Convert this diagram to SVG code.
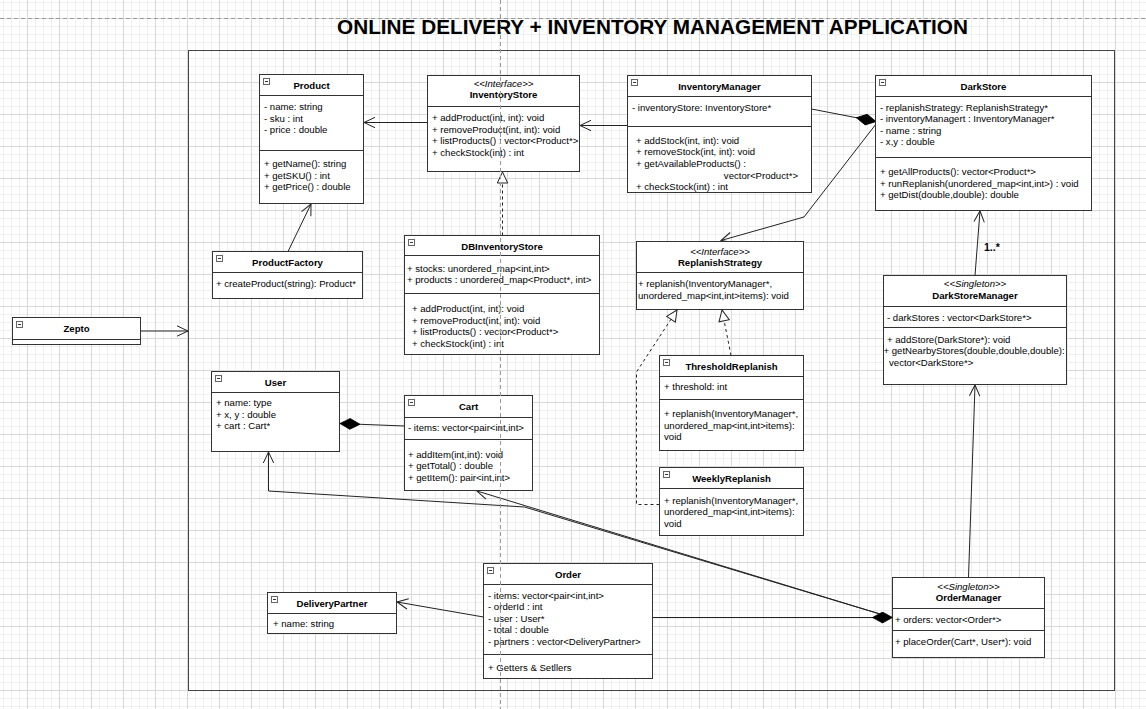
<svg xmlns="http://www.w3.org/2000/svg" xmlns:xlink="http://www.w3.org/1999/xlink" width="1146" height="709" viewBox="0 0 1146 709">
<style>
text{font-family:"Liberation Sans",Arial,Helvetica,sans-serif;font-size:9.6px;fill:#000}
.h{font-weight:bold;text-anchor:middle}
.s{font-style:italic;text-anchor:middle}
.e{text-anchor:end}
.box{fill:#fff;stroke:#333;stroke-width:1}
.ln{fill:none;stroke:#333;stroke-width:1}
.c{fill:none;stroke:#222;stroke-width:1}
.d{fill:none;stroke:#222;stroke-width:1;stroke-dasharray:3 3}
.pb{fill:none;stroke:#9a9a9a;stroke-width:1;stroke-dasharray:4 3}
</style>
<defs>
<pattern id="grid" width="32" height="32" patternUnits="userSpaceOnUse" x="27" y="18">
<path d="M8.5 0V32M16.5 0V32M24.5 0V32M0 8.5H32M0 16.5H32M0 24.5H32" stroke="#efefef" stroke-width="1" fill="none"/>
<path d="M0.5 0V32M0 0.5H32" stroke="#d9d9d9" stroke-width="1" fill="none"/>
</pattern>
<g id="ic"><rect x="0" y="0" width="6" height="6" fill="#fff" stroke="#666" stroke-width="1"/><path d="M1.5 3H4.5" stroke="#333" stroke-width="1"/></g>
<marker id="open" viewBox="0 0 14 14" markerWidth="14" markerHeight="14" refX="12" refY="7" orient="auto" markerUnits="userSpaceOnUse"><path d="M1 1.8L12 7L1 12.2" fill="none" stroke="#222" stroke-width="1"/></marker>
<marker id="tri" viewBox="0 0 14 14" markerWidth="14" markerHeight="14" refX="12" refY="7" orient="auto" markerUnits="userSpaceOnUse"><path d="M1 1.8L12 7L1 12.2Z" fill="#fff" stroke="#222" stroke-width="1"/></marker>
<marker id="dia" viewBox="0 0 22 12" markerWidth="22" markerHeight="12" refX="21" refY="6" orient="auto" markerUnits="userSpaceOnUse"><path d="M1 6L11 0.6L21 6L11 11.4Z" fill="#000" stroke="#000" stroke-width="0.8"/></marker>
</defs>
<rect x="0" y="0" width="1146" height="709" fill="#fff"/>
<rect x="0" y="0" width="1146" height="709" fill="url(#grid)"/>

<g id="title"><text x="652.5" y="34" style="font-size:20.6px;font-weight:bold;text-anchor:middle" textLength="631" lengthAdjust="spacingAndGlyphs">ONLINE DELIVERY + INVENTORY MANAGEMENT APPLICATION</text></g>

<g id="container"><rect x="188.5" y="50.5" width="926" height="640" fill="none" stroke="#444" stroke-width="1"/></g>

<g id="connectors">
<path class="c" d="M427.5 122.5H364" marker-end="url(#open)"/>
<path class="c" d="M288 251.5L311 204" marker-end="url(#open)"/>
<path class="c" d="M627.5 125.5H580" marker-end="url(#open)"/>
<path class="d" d="M502.5 235.5V172" marker-end="url(#tri)"/>
<path class="c" d="M811.5 109L876 121.5" marker-end="url(#dia)"/>
<path class="c" d="M876 124L804 217L721 240.5" marker-end="url(#open)"/>
<path class="c" d="M975 275.5L980 211" marker-end="url(#open)"/>
<path class="d" d="M731 355.5L722 310" marker-end="url(#tri)"/>
<path class="d" d="M659.5 504.5H636.5V372L677 310" marker-end="url(#tri)"/>
<path class="c" d="M404.5 426L340 423.5" marker-end="url(#dia)"/>
<path class="c" d="M140.5 331H188" marker-end="url(#open)"/>
<path class="c" d="M483.5 617L397 602" marker-end="url(#open)"/>
<path class="c" d="M652.5 617.5H892.5" marker-end="url(#dia)"/>
<path class="c" d="M880 614L524.5 507L268.5 491V452" marker-end="url(#open)"/>
<path class="c" d="M880 614L477 491" marker-end="url(#open)"/>
<path class="c" d="M968.5 577.5L975 385" marker-end="url(#open)"/>
<text x="984" y="250.5" style="font-weight:bold;font-size:10.5px">1..*</text>
</g>

<g id="product">
<rect class="box" x="259.5" y="74.5" width="104" height="129"/>
<path class="ln" d="M259.5 95.5H363.5M259.5 150.5H363.5"/>
<use xlink:href="#ic" x="263.5" y="78.5"/>
<text class="h" x="311.5" y="89">Product</text>
<text x="264" y="110">- name: string</text>
<text x="264" y="121.5">- sku : int</text>
<text x="264" y="133">- price : double</text>
<text x="264" y="167">+ getName(): string</text>
<text x="264" y="178.5">+ getSKU() : int</text>
<text x="264" y="190">+ getPrice() : double</text>
</g>

<g id="inventoryStore">
<rect class="box" x="427.5" y="75.5" width="152" height="96"/>
<path class="ln" d="M427.5 106.5H579.5"/>
<text class="s" x="503.5" y="86.5">&lt;&lt;Interface&gt;&gt;</text>
<text class="h" x="503.5" y="98">InventoryStore</text>
<text x="432" y="121">+ addProduct(int, int): void</text>
<text x="432" y="132.5">+ removeProduct(int, int): void</text>
<text x="432" y="144">+ listProducts() : vector&lt;Product*&gt;</text>
<text x="432" y="155.5">+ checkStock(int) : int</text>
</g>

<g id="inventoryManager">
<rect class="box" x="627.5" y="75.5" width="184" height="117"/>
<path class="ln" d="M627.5 96.5H811.5M627.5 126.5H811.5"/>
<use xlink:href="#ic" x="631.5" y="79.5"/>
<text class="h" x="719.5" y="89.5">InventoryManager</text>
<text x="632" y="110.5">- inventoryStore: InventoryStore*</text>
<text x="636" y="143.5">+ addStock(int, int): void</text>
<text x="636" y="155">+ removeStock(int, int): void</text>
<text x="636" y="166.5">+ getAvailableProducts() :</text>
<text class="e" x="798" y="178.5">vector&lt;Product*&gt;</text>
<text x="636" y="190">+ checkStock(int) : int</text>
</g>

<g id="darkStore">
<rect class="box" x="875.5" y="75.5" width="216" height="135"/>
<path class="ln" d="M875.5 96.5H1091.5M875.5 157.5H1091.5"/>
<use xlink:href="#ic" x="879.5" y="79.5"/>
<text class="h" x="983.5" y="89.5">DarkStore</text>
<text x="880" y="110.5">- replanishStrategy: ReplanishStrategy*</text>
<text x="880" y="122">- inventoryManagert : InventoryManager*</text>
<text x="880" y="133.5">- name : string</text>
<text x="880" y="145">- x,y : double</text>
<text x="880" y="175">+ getAllProducts(): vector&lt;Product*&gt;</text>
<text x="880" y="186.5">+ runReplanish(unordered_map&lt;int,int&gt;) : void</text>
<text x="880" y="198">+ getDist(double,double): double</text>
</g>

<g id="productFactory">
<rect class="box" x="212.5" y="251.5" width="150" height="47"/>
<path class="ln" d="M212.5 272.5H362.5"/>
<use xlink:href="#ic" x="216.5" y="255.5"/>
<text class="h" x="287.5" y="265.5">ProductFactory</text>
<text x="216" y="287">+ createProduct(string): Product*</text>
</g>

<g id="dbInventoryStore">
<rect class="box" x="404.5" y="235.5" width="195" height="119"/>
<path class="ln" d="M404.5 255.5H599.5M404.5 293.5H599.5"/>
<use xlink:href="#ic" x="408.5" y="239.5"/>
<text class="h" x="502" y="249.5">DBInventoryStore</text>
<text x="407" y="271.5">+ stocks: unordered_map&lt;int,int&gt;</text>
<text x="407" y="283">+ products : unordered_map&lt;Product*, int&gt;</text>
<text x="412" y="312">+ addProduct(int, int): void</text>
<text x="412" y="323.5">+ removeProduct(int, int): void</text>
<text x="412" y="335">+ listProducts() : vector&lt;Product*&gt;</text>
<text x="412" y="346.5">+ checkStock(int) : int</text>
</g>

<g id="replanishStrategy">
<rect class="box" x="636.5" y="241.5" width="167" height="68"/>
<path class="ln" d="M636.5 272.5H803.5"/>
<text class="s" x="720" y="254.5">&lt;&lt;Interface&gt;&gt;</text>
<text class="h" x="720" y="265.5">ReplanishStrategy</text>
<text x="638" y="287">+ replanish(InventoryManager*,</text>
<text x="638" y="298.5">unordered_map&lt;int,int&gt;items): void</text>
</g>

<g id="darkStoreManager">
<rect class="box" x="883.5" y="275.5" width="183" height="109"/>
<path class="ln" d="M883.5 306.5H1066.5M883.5 327.5H1066.5"/>
<text class="s" x="975" y="286.5">&lt;&lt;Singleton&gt;&gt;</text>
<text class="h" x="975" y="298.5">DarkStoreManager</text>
<text x="887" y="321">- darkStores : vector&lt;DarkStore*&gt;</text>
<text x="887" y="342.5">+ addStore(DarkStore*): void</text>
<text x="883.5" y="354">+ getNearbyStores(double,double,double):</text>
<text x="889" y="365.5">vector&lt;DarkStore*&gt;</text>
</g>

<g id="zepto">
<rect class="box" x="12.5" y="317.5" width="128" height="27"/>
<path class="ln" d="M12.5 339.5H140.5"/>
<use xlink:href="#ic" x="16.5" y="321.5"/>
<text class="h" x="76.5" y="331.5">Zepto</text>
</g>

<g id="user">
<rect class="box" x="211.5" y="371.5" width="128" height="80"/>
<path class="ln" d="M211.5 392.5H339.5"/>
<use xlink:href="#ic" x="215.5" y="375.5"/>
<text class="h" x="275.5" y="385.5">User</text>
<text x="216" y="406">+ name: type</text>
<text x="216" y="417.5">+ x, y : double</text>
<text x="216" y="429">+ cart : Cart*</text>
</g>

<g id="cart">
<rect class="box" x="404.5" y="395.5" width="128" height="95"/>
<path class="ln" d="M404.5 417.5H532.5M404.5 439.5H532.5"/>
<use xlink:href="#ic" x="408.5" y="399.5"/>
<text class="h" x="468.5" y="409.5">Cart</text>
<text x="408" y="431">- items: vector&lt;pair&lt;int,int&gt;</text>
<text x="408" y="457.5">+ addItem(int,int): void</text>
<text x="408" y="469">+ getTotal() : double</text>
<text x="408" y="480.5">+ getItem(): pair&lt;int,int&gt;</text>
</g>

<g id="thresholdReplanish">
<rect class="box" x="659.5" y="355.5" width="144" height="95"/>
<path class="ln" d="M659.5 376.5H803.5M659.5 399.5H803.5"/>
<use xlink:href="#ic" x="663.5" y="359.5"/>
<text class="h" x="731.5" y="369.5">ThresholdReplanish</text>
<text x="664" y="390">+ threshold: int</text>
<text x="664" y="417">+ replanish(InventoryManager*,</text>
<text x="664" y="428.5">unordered_map&lt;int,int&gt;items):</text>
<text x="664" y="440">void</text>
</g>

<g id="weeklyReplanish">
<rect class="box" x="659.5" y="467.5" width="144" height="68"/>
<path class="ln" d="M659.5 488.5H803.5"/>
<use xlink:href="#ic" x="663.5" y="471.5"/>
<text class="h" x="731.5" y="481.5">WeeklyReplanish</text>
<text x="664" y="503.5">+ replanish(InventoryManager*,</text>
<text x="664" y="515">unordered_map&lt;int,int&gt;items):</text>
<text x="664" y="526.5">void</text>
</g>

<g id="order">
<rect class="box" x="483.5" y="563.5" width="169" height="115"/>
<path class="ln" d="M483.5 584.5H652.5M483.5 654.5H652.5"/>
<use xlink:href="#ic" x="487.5" y="567.5"/>
<text class="h" x="568" y="577.5">Order</text>
<text x="488" y="598.5">- items: vector&lt;pair&lt;int,int&gt;</text>
<text x="488" y="610">- orderId : int</text>
<text x="488" y="621.5">- user : User*</text>
<text x="488" y="633">- total : double</text>
<text x="488" y="644.5">- partners : vector&lt;DeliveryPartner&gt;</text>
<text x="488" y="671">+ Getters &amp; Setllers</text>
</g>

<g id="deliveryPartner">
<rect class="box" x="267.5" y="592.5" width="129" height="41"/>
<path class="ln" d="M267.5 613.5H396.5"/>
<use xlink:href="#ic" x="271.5" y="596.5"/>
<text class="h" x="332" y="606.5">DeliveryPartner</text>
<text x="273" y="627">+ name: string</text>
</g>

<g id="orderManager">
<rect class="box" x="892.5" y="577.5" width="152" height="80"/>
<path class="ln" d="M892.5 608.5H1044.5M892.5 630.5H1044.5"/>
<text class="s" x="968.5" y="589.5">&lt;&lt;Singleton&gt;&gt;</text>
<text class="h" x="968.5" y="600.5">OrderManager</text>
<text x="895" y="622.5">+ orders: vector&lt;Order*&gt;</text>
<text x="895" y="644.5">+ placeOrder(Cart*, User*): void</text>
</g>

<g id="pagebreaks">
<path class="pb" d="M0 18.5H1146M500.5 0V709"/>
</g>
</svg>
